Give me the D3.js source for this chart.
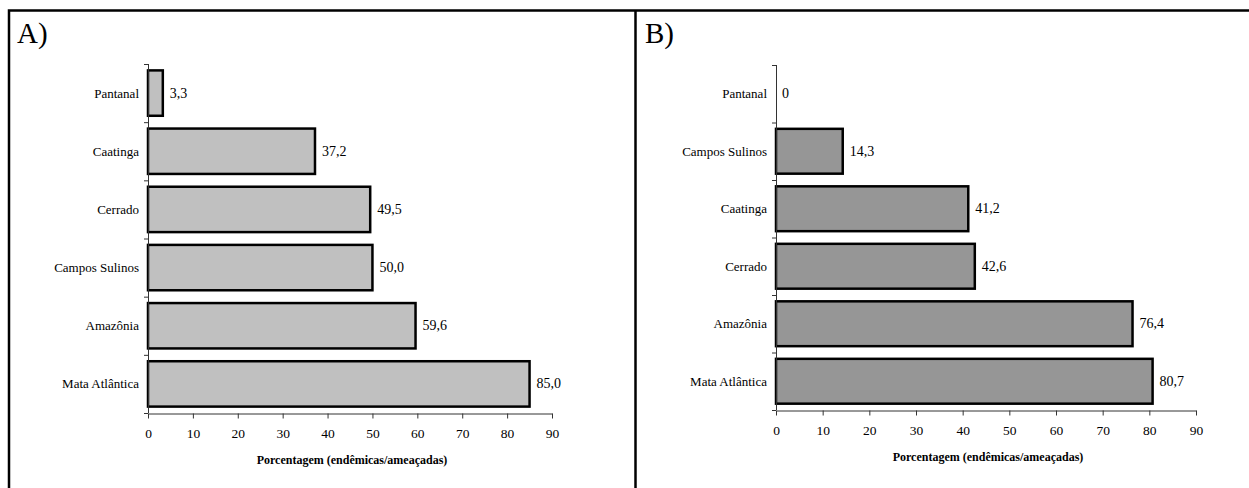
<!DOCTYPE html>
<html>
<head>
<meta charset="utf-8">
<script src="https://cdn.jsdelivr.net/npm/d3@7"></script>
<style>
  body { margin: 0; background: #fff; }
  svg text { font-family: "Liberation Serif", "Times New Roman", Times, "DejaVu Serif", serif; }
</style>
</head>
<body>
<div id="chart"></div>
<script>
// panel A
const catsA = ["Pantanal", "Caatinga", "Cerrado", "Campos Sulinos", "Amazônia", "Mata Atlântica"];
const valsA = [3.3, 37.2, 49.5, 50.0, 59.6, 85.0];
// panel B
const catsB = ["Pantanal", "Campos Sulinos", "Caatinga", "Cerrado", "Amazônia", "Mata Atlântica"];
const valsB = [0, 14.3, 41.2, 42.6, 76.4, 80.7];
const xTicks = [0, 10, 20, 30, 40, 50, 60, 70, 80, 90];
const axisTitle = "Porcentagem (endêmicas/ameaçadas)";

const W = 1249, H = 488;
const svg = d3.select("#chart").append("svg").attr("width", W).attr("height", H);

// frame
svg.append("rect").attr("x", 9).attr("y", 10.5).attr("width", 1250).attr("height", 490)
    .attr("fill", "none").attr("stroke", "#000").attr("stroke-width", 2.5);
svg.append("line").attr("x1", 635.5).attr("x2", 635.5).attr("y1", 10).attr("y2", H)
    .attr("stroke", "#000").attr("stroke-width", 2.5);

function panel(label, cats, vals, fill, o) {
    const g = svg.append("g");
    const x = d3.scaleLinear().domain([0, 90]).range([o.x0, o.x1]);
    const y = d3.scaleBand().domain(cats).range([o.y0, o.y1]).paddingInner(0.22).paddingOuter(0.11);

    g.append("text").attr("x", o.lx).attr("y", 43).attr("font-size", 29).text(label);

    // bars
    g.selectAll("rect.bar").data(cats).enter().append("rect")
        .attr("class", "bar")
        .attr("x", x(0))
        .attr("y", d => y(d))
        .attr("width", (d, i) => x(vals[i]) - x(0))
        .attr("height", y.bandwidth())
        .attr("fill", fill)
        .attr("stroke", "#000")
        .attr("stroke-width", (d, i) => vals[i] > 0 ? 2.5 : 0);

    // value labels
    g.selectAll("text.val").data(cats).enter().append("text")
        .attr("class", "val")
        .attr("x", (d, i) => x(vals[i]) + (vals[i] > 0 ? 7 : 6))
        .attr("y", d => y(d) + y.bandwidth() / 2 + 4.5)
        .attr("font-size", 14)
        .text((d, i) => vals[i] === 0 ? "0" : d3.format(".1f")(vals[i]).replace(".", ","));

    // y axis line + ticks at band boundaries
    const step = (o.y1 - o.y0) / cats.length;
    g.append("line").attr("x1", x(0) + 0.5).attr("x2", x(0) + 0.5).attr("y1", o.y0).attr("y2", o.y1)
        .attr("stroke", "#333");
    g.selectAll("line.yt").data(d3.range(cats.length + 1)).enter().append("line")
        .attr("class", "yt")
        .attr("x1", x(0) - 4).attr("x2", x(0))
        .attr("y1", i => o.y0 + i * step + 0.5).attr("y2", i => o.y0 + i * step + 0.5)
        .attr("stroke", "#333");
    g.selectAll("text.cat").data(cats).enter().append("text")
        .attr("class", "cat")
        .attr("x", x(0) - 9)
        .attr("y", d => y(d) + y.bandwidth() / 2 + 4.5)
        .attr("text-anchor", "end")
        .attr("font-size", 13)
        .text(d => d);

    // x axis
    const ax = g.append("g").attr("transform", `translate(0,${o.y1 + 0.5})`)
        .call(d3.axisBottom(x).tickValues(xTicks).tickSize(5).tickSizeOuter(0).tickPadding(10));
    ax.attr("font-family", null);
    ax.select(".domain").attr("stroke", "#333");
    ax.selectAll(".tick line").attr("stroke", "#333");
    ax.selectAll(".tick text").attr("font-size", 13.5).attr("fill", "#000");

    g.append("text")
        .attr("x", (o.x0 + o.x1) / 2 + 2)
        .attr("y", o.y1 + 51)
        .attr("text-anchor", "middle")
        .attr("font-size", 12)
        .attr("font-weight", "bold")
        .text(axisTitle);
}

panel("A)", catsA, valsA, "#c0c0c0", { lx: 17, x0: 148, x1: 552, y0: 64, y1: 413 });
panel("B)", catsB, valsB, "#969696", { lx: 645, x0: 776, x1: 1196, y0: 65, y1: 410 });
</script>
</body>
</html>
